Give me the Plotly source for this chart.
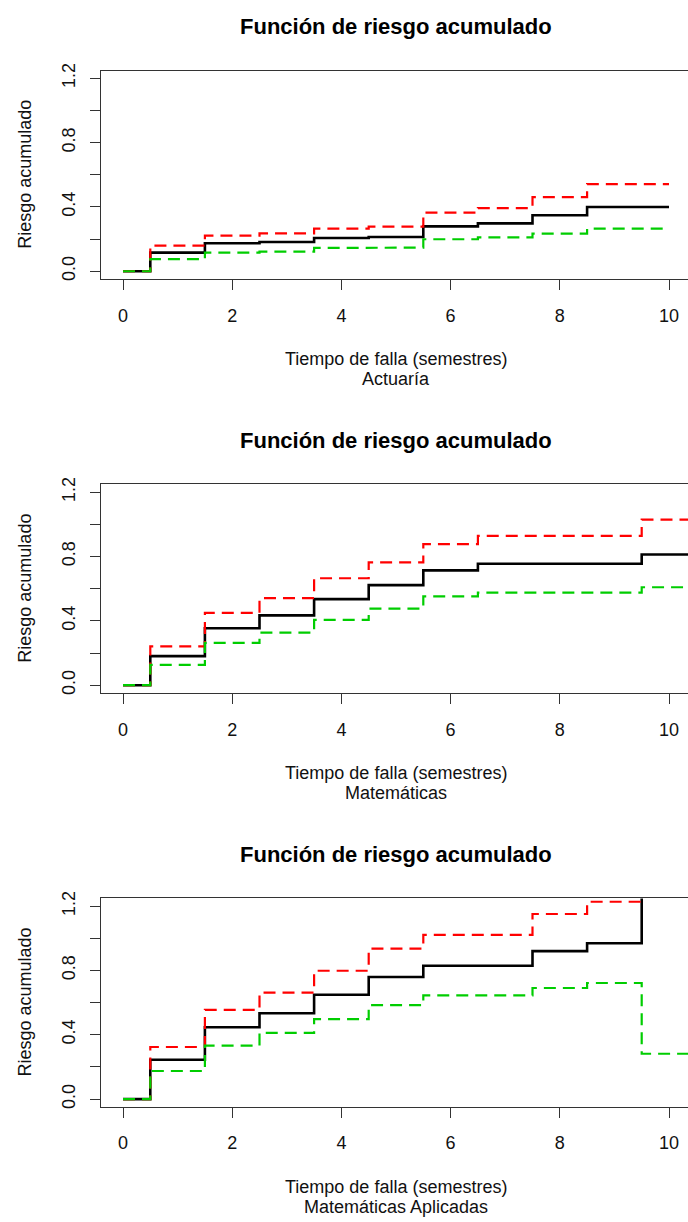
import plotly.graph_objects as go

# ---------------- data ----------------
panel_titles = ["Función de riesgo acumulado"] * 3
x_label = "Tiempo de falla (semestres)"
y_label = "Riesgo acumulado"
subtitles = ["Actuaría", "Matemáticas", "Matemáticas Aplicadas"]

x_ticks = [0, 2, 4, 6, 8, 10]
y_ticks = [0.0, 0.2, 0.4, 0.6, 0.8, 1.0, 1.2]
y_ticktext = ["0.0", "", "0.4", "", "0.8", "", "1.2"]

# Actuaría
t_act = [0, 0.5, 1.5, 2.5, 3.5, 4.5, 5.5, 6.5, 7.5, 8.5]
end_act = 10
h_act = [0, 0.116, 0.174, 0.182, 0.207, 0.213, 0.279, 0.298, 0.348, 0.400]
up_act = [0, 0.159, 0.221, 0.236, 0.265, 0.277, 0.364, 0.393, 0.461, 0.542]
lo_act = [0, 0.075, 0.116, 0.122, 0.145, 0.147, 0.199, 0.211, 0.234, 0.265]

# Matemáticas
t_mat = [0, 0.5, 1.5, 2.5, 3.5, 4.5, 5.5, 6.5, 9.5]
end_mat = 10.6
h_mat = [0, 0.181, 0.354, 0.434, 0.535, 0.622, 0.714, 0.755, 0.813]
up_mat = [0, 0.241, 0.449, 0.541, 0.665, 0.764, 0.877, 0.928, 1.029]
lo_mat = [0, 0.126, 0.263, 0.327, 0.406, 0.476, 0.552, 0.576, 0.609]

# Matemáticas Aplicadas
t_apl = [0, 0.5, 1.5, 2.5, 3.5, 4.5, 5.5, 7.5, 8.5, 9.5]
end_apl = 10.6
h_apl = [0, 0.245, 0.447, 0.534, 0.649, 0.759, 0.829, 0.920, 0.969, 1.9]
up_apl = [0, 0.324, 0.555, 0.662, 0.798, 0.936, 1.021, 1.151, 1.227, None]
lo_apl = [0, 0.175, 0.332, 0.412, 0.497, 0.584, 0.645, 0.691, 0.722, 0.282]

panels = [
    (t_act, end_act, h_act, up_act, lo_act),
    (t_mat, end_mat, h_mat, up_mat, lo_mat),
    (t_apl, end_apl, h_apl, up_apl, lo_apl),
]

# ---------------- layout constants ----------------
W, H = 688, 1222
FONT = "Liberation Sans, Arial, sans-serif"
box_top = [64, 481, 898]
box_h = 210
box_left = 101
x0_px, px_per_unit = 123, 54.6
x_range = [(box_left - x0_px) / px_per_unit, (W - x0_px) / px_per_unit]
y_range = [-0.048, 1.248]
title_y = [20, 437, 854]
xlab_y = [355, 772, 1189]
sub_y = [375, 792, 1209]
center_x = 396


def step_xy(times, vals, t_end):
    xs, ys = [], []
    for i, v in enumerate(vals):
        t0 = times[i]
        t1 = times[i + 1] if i + 1 < len(times) else t_end
        if v is None:
            xs.append(None)
            ys.append(None)
            continue
        xs += [t0, t1]
        ys += [v, v]
    return xs, ys


def py(pix):
    return 1 - pix / H


fig = go.Figure()
annotations = []
for k, (t, tend, hh, up, lo) in enumerate(panels):
    xa = "x" if k == 0 else f"x{k+1}"
    ya = "y" if k == 0 else f"y{k+1}"
    for vals, color, dash, width in [
        (hh, "#000000", "solid", 2.6),
        (up, "#FF0000", "12px,7px", 2.2),
        (lo, "#00CD00", "12px,7px", 2.2),
    ]:
        xs, ys = step_xy(t, vals, tend)
        fig.add_trace(go.Scatter(
            x=xs, y=ys, mode="lines", xaxis=xa, yaxis=ya,
            line=dict(color=color, width=width, dash=dash),
            showlegend=False, hoverinfo="skip"))

    dom_y = [py(box_top[k] + box_h), py(box_top[k])]
    axis_common = dict(
        showgrid=False, zeroline=False, showline=True,
        linecolor="#333333", linewidth=1,
        ticks="outside", ticklen=10, tickwidth=1, tickcolor="#333333",
        tickfont=dict(family=FONT, size=18, color="#111111"),
    )
    fig.layout[f"xaxis{'' if k == 0 else k+1}"] = dict(
        axis_common, domain=[box_left / W, 1.0], range=x_range,
        anchor=ya, mirror=True, tickvals=x_ticks,
        ticktext=[str(v) for v in x_ticks], ticklabelstandoff=10)
    fig.layout[f"yaxis{'' if k == 0 else k+1}"] = dict(
        axis_common, domain=dom_y, range=y_range, anchor=xa,
        tickvals=y_ticks, ticktext=y_ticktext, tickangle=-90,
        ticklabelstandoff=8)

    annotations += [
        dict(text=f"<b>{panel_titles[k]}</b>", x=center_x / W, y=py(title_y[k]),
             xref="paper", yref="paper", showarrow=False,
             xanchor="center", yanchor="middle",
             font=dict(family=FONT, size=22, color="#000000")),
        dict(text=x_label, x=center_x / W, y=py(xlab_y[k]),
             xref="paper", yref="paper", showarrow=False,
             xanchor="center", yanchor="middle",
             font=dict(family=FONT, size=18, color="#111111")),
        dict(text=subtitles[k], x=center_x / W, y=py(sub_y[k]),
             xref="paper", yref="paper", showarrow=False,
             xanchor="center", yanchor="middle",
             font=dict(family=FONT, size=18, color="#111111")),
        dict(text=y_label, x=25 / W, y=py(box_top[k] + box_h / 2),
             xref="paper", yref="paper", showarrow=False, textangle=-90,
             xanchor="center", yanchor="middle",
             font=dict(family=FONT, size=18, color="#111111")),
    ]

fig.update_layout(
    width=W, height=H,
    margin=dict(l=0, r=0, t=0, b=0),
    paper_bgcolor="white", plot_bgcolor="white",
    annotations=annotations,
)

fig.write_html("out.html")
